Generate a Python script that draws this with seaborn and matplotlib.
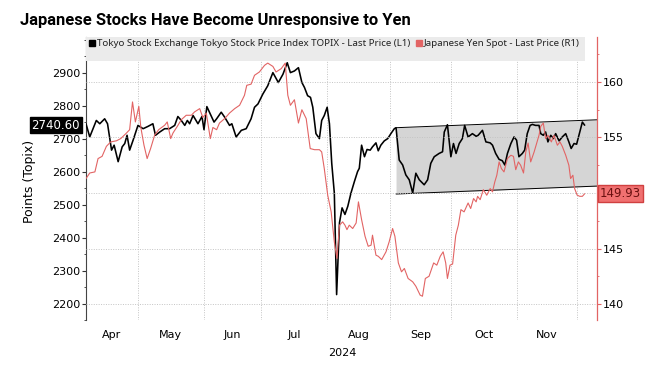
import numpy as np
import pandas as pd
import matplotlib
matplotlib.use('Agg')
import matplotlib.pyplot as plt
import seaborn as sns
from matplotlib.lines import Line2D
from matplotlib.patches import Rectangle
from matplotlib.transforms import blended_transform_factory

# DATA
# x = trading day counted from 2024-04-05 (weekdays)
topix_day = [0, 1.3, 3.6, 4.8, 6.5, 7.5, 8.9, 9.8, 11.2, 12.6, 13.5, 14.3, 15.2, 16.4,
             18.1, 19.9, 21.6, 23.3, 24.2, 25.7, 27.4, 29.1, 30.9, 32.0, 33.2, 34.4,
             35.3, 36.1, 37.3, 39.0, 40.4, 41.1, 42.1, 43.0, 44.6, 45.5, 47.1, 48.3,
             50.0, 50.8, 52.3, 54.1, 55.8, 57.5, 58.7, 59.9, 61.6, 63.3, 65.1, 67.0,
             68.6, 70.1, 71.2, 72.6, 74.0, 75.2, 76.1, 77.2, 78.2, 79.0, 80.1, 81.3,
             82.1, 83.0, 84.0, 84.8, 85.6, 86.5, 87.3, 88.3, 89.2, 90.2, 91.2, 92.3,
             93.5, 94.6, 95.2, 96.0, 97.0, 97.9, 99.0, 99.8, 101.0, 101.8, 102.7, 103.9,
             105.1, 106.2, 107.4, 108.0, 109.1, 110.3, 111.4, 112.6, 113.8, 114.9, 116.1,
             117.8, 119.0, 120.1, 121.3, 123.0, 124.2, 124.8, 125.9, 127.1, 128.0, 128.9,
             130.0, 131.1, 131.9, 133.1, 134.6, 135.9, 136.6, 138.1, 139.3, 140.8, 141.6,
             142.7, 143.9, 145.0, 145.9, 146.8, 148.0, 149.1, 150.0, 150.8, 152.0, 152.8,
             153.7, 154.7, 155.5, 156.6, 157.8, 158.4, 159.3, 160.1, 160.9, 161.9, 162.8,
             163.6, 164.8, 165.9, 167.1, 168.2, 169.0, 170.0, 170.9, 172.0, 172.9, 173.7]
topix_val = [2745, 2705, 2755, 2745, 2760, 2745, 2665, 2680, 2630, 2675, 2685, 2710, 2665, 2695,
             2740, 2730, 2737, 2745, 2710, 2720, 2730, 2730, 2740, 2767, 2755, 2740,
             2755, 2745, 2770, 2745, 2767, 2727, 2797, 2780, 2750, 2760, 2780, 2765,
             2740, 2745, 2705, 2725, 2730, 2760, 2795, 2805, 2835, 2860, 2900, 2870,
             2895, 2930, 2900, 2905, 2915, 2870, 2855, 2830, 2825, 2795, 2715, 2700,
             2755, 2770, 2795, 2745, 2625, 2535, 2227, 2445, 2490, 2470, 2495, 2535,
             2570, 2600, 2610, 2680, 2645, 2667, 2665, 2675, 2687, 2663, 2680, 2693,
             2700, 2715, 2730, 2733, 2635, 2620, 2590, 2575, 2535, 2595, 2575,
             2560, 2575, 2625, 2645, 2655, 2660, 2720, 2742, 2645, 2685, 2655,
             2685, 2700, 2740, 2705, 2715, 2707, 2710, 2725, 2690, 2687, 2680,
             2655, 2637, 2633, 2620, 2655, 2685, 2705, 2695, 2645, 2655, 2665,
             2715, 2740, 2743, 2740, 2740, 2715, 2710, 2720, 2690, 2710, 2700,
             2715, 2693, 2705, 2715, 2690, 2670, 2685, 2683, 2720, 2750, 2740.60]

yen_day = [0, 1.3, 3.1, 4.2, 5.6, 7.1, 8.6, 10.6, 12.1, 14.1, 15.2, 16.2, 17.2, 18.4, 19.1,
           20.2, 21.3, 22.5, 23.9, 25.3, 27.4, 28.3, 29.5, 30.3, 31.8, 33.2, 34.9, 36.7,
           37.8, 39.6, 40.7, 41.9, 43.3, 44.2, 45.5, 46.5, 48.3, 50.0, 51.8, 53.5, 55.2,
           56.0, 57.5, 58.7, 60.4, 62.2, 63.3, 65.1, 66.2, 68.0, 69.4, 70.3, 71.2, 72.6,
           74.0, 75.2, 76.7, 78.1, 79.6, 81.3, 82.1, 83.0, 84.2, 85.4, 86.5, 87.4, 88.3,
           89.4, 90.2, 90.9, 91.7, 92.9, 94.1, 94.9, 96.0, 97.2, 98.3, 99.3, 99.8, 101.0,
           101.8, 103.0, 104.5, 105.6, 106.8, 107.6, 108.8, 109.9, 110.9, 112.2, 113.8,
           114.9, 116.4, 117.2, 118.2, 119.5, 121.1, 122.2, 123.4, 124.4, 125.3, 125.9,
           126.8, 127.7, 128.8, 129.7, 130.6, 131.7, 133.1, 134.0, 135.0, 135.9, 136.4,
           137.3, 138.4, 139.6, 140.8, 141.6, 142.4, 143.1, 143.9, 144.7, 145.6, 146.8,
           148.0, 148.9, 149.7, 150.6, 151.4, 152.4, 153.2, 154.0, 154.9, 156.1, 157.0,
           157.8, 158.4, 159.3, 160.1, 160.9, 162.1, 163.0, 164.2, 165.1, 165.9, 167.1,
           168.2, 168.8, 169.6, 170.2, 171.1, 172.0, 172.9, 173.7]
yen_val = [151.3, 151.8, 151.9, 153.1, 153.3, 154.2, 154.6, 154.7, 154.9, 155.4, 155.7, 158.2, 156.4, 157.8, 155.9,
           154.3, 153.1, 154.0, 155.2, 155.7, 156.1, 156.4, 154.9, 155.4, 156.0, 156.6, 157.0, 157.0,
           157.3, 157.6, 156.8, 157.2, 154.9, 155.9, 155.7, 156.3, 156.7, 157.2, 157.6, 157.9, 158.8,
           159.7, 159.8, 160.6, 160.9, 161.5, 161.7, 161.4, 160.9, 161.2, 161.7, 158.8, 157.9, 158.4,
           156.3, 157.5, 156.7, 154.0, 153.9, 153.9, 153.7, 152.2, 149.8, 148.3, 145.6, 144.1, 147.1,
           147.4, 147.1, 146.7, 147.1, 146.8, 147.3, 149.2, 147.6, 146.1, 145.2, 145.3, 146.2, 144.4,
           144.3, 144.0, 144.7, 145.6, 146.8, 146.1, 143.7, 142.9, 143.2, 142.3, 142.0,
           141.6, 140.8, 140.7, 142.3, 142.5, 143.7, 143.5, 144.3, 144.7, 143.7, 142.3,
           143.5, 143.6, 146.2, 147.1, 148.5, 148.3, 149.1, 148.6, 149.5, 149.2, 149.7,
           149.4, 150.3, 149.8, 150.4, 150.1, 151.0, 151.6, 152.8, 152.2, 151.9, 153.1,
           153.4, 153.3, 152.1, 152.8, 152.5, 151.8, 153.7, 154.5, 152.8, 153.7, 154.5,
           155.2, 156.0, 156.3, 154.9, 155.2, 154.6, 155.2, 154.3, 154.6, 154.2, 153.4,
           152.5, 151.3, 151.6, 150.4, 149.8, 149.7, 149.7, 149.93]

# trend channel on the TOPIX scale
channel_day = [108.0, 178.0]
channel_top = [2733, 2757]
channel_bottom = [2532, 2556]

title = 'Japanese Stocks Have Become Unresponsive to Yen'
topix_label = 'Tokyo Stock Exchange Tokyo Stock Price Index TOPIX - Last Price (L1)'
yen_label = 'Japanese Yen Spot - Last Price (R1)'
month_names = ['Apr', 'May', 'Jun', 'Jul', 'Aug', 'Sep', 'Oct', 'Nov']

# trading calendar -> month boundaries
bdays = pd.bdate_range('2024-04-05', '2024-12-13')
month_starts = pd.Series(np.arange(len(bdays)), index=bdays).groupby(bdays.to_period('M')).min().values
month_mid = (month_starts[:-1] + month_starts[1:]) / 2

yen_color = '#e26464'
grid_kw = dict(color='#c4c4c4', linestyle=(0, (1, 1.5)), linewidth=0.7)
narrow = ['Noto Sans', 'DejaVu Sans']

sns.set_style('white')
plt.rcParams['font.family'] = ['DejaVu Sans']
plt.rcParams['text.color'] = 'black'
plt.rcParams['xtick.labelcolor'] = 'black'
plt.rcParams['ytick.labelcolor'] = 'black'

fig = plt.figure(figsize=(6.62, 3.82), dpi=100)
ax = fig.add_axes([86 / 662, 1 - 320 / 382, (597 - 86) / 662, (320 - 37) / 382])
ax2 = ax.twinx()

# channel
ax.fill_between(channel_day, channel_bottom, channel_top, color='#d5d5d5', lw=0, zorder=1)
sns.lineplot(x=channel_day, y=channel_top, ax=ax, color='black', lw=0.7, zorder=2)
sns.lineplot(x=channel_day, y=channel_bottom, ax=ax, color='black', lw=0.7, zorder=2)

sns.lineplot(x=topix_day, y=topix_val, ax=ax, color='black', lw=1.15, zorder=3)
sns.lineplot(x=yen_day, y=yen_val, ax=ax2, color=yen_color, lw=0.8, zorder=3)

ax.set_xlim(0, 178)
ax.set_ylim(2161, 3008)
ax2.set_ylim(138.56, 164.05)

# x axis: grid at month starts, labels centred in months
ax.set_xticks(month_starts[1:9])
ax.set_xticklabels([])
ax.set_xticks(month_mid[:8], minor=True)
ax.set_xticklabels(month_names, minor=True)
ax.tick_params(axis='x', which='both', length=0, pad=7, labelsize=8, labelcolor='black')
ax.xaxis.grid(True, **grid_kw)

ax.set_yticks(np.arange(2200, 2901, 100))
ax.set_yticks(np.arange(2150, 3001, 50), minor=True)
ax.tick_params(axis='y', which='major', direction='out', length=3, width=0.8, labelsize=8, pad=1,
               left=True, color='#333333', labelcolor='black')
ax.tick_params(axis='y', which='minor', direction='out', length=1.5, width=0.6, left=True, color='#333333')
ax.yaxis.grid(False)

# the 150 label sits under the last-price tag, as in the original
yen_ticks = np.arange(140, 161, 5)
ax2.set_yticks(yen_ticks)
ax2.set_yticklabels(['' if t == 150 else str(t) for t in yen_ticks])
ax2.set_yticks(np.arange(140, 163, 2.5), minor=True)
ax2.tick_params(axis='y', which='major', direction='out', length=3, width=0.8, color=yen_color,
                labelsize=8, pad=1, right=True, labelcolor='black')
ax2.tick_params(axis='y', which='minor', direction='out', length=1.5, width=0.6, color=yen_color, right=True)
ax2.yaxis.grid(True, **grid_kw)
ax2.set_ylabel('')
ax.set_ylabel('')

for s in ['top', 'bottom', 'right']:
    ax.spines[s].set_visible(False)
ax.spines['left'].set_color('#444444')
ax.spines['left'].set_linewidth(0.8)
for s in ['top', 'bottom', 'left']:
    ax2.spines[s].set_visible(False)
ax2.spines['right'].set_color(yen_color)
ax2.spines['right'].set_linewidth(0.9)

# legend strip: grey band plus a frameless legend on top
ax2.add_patch(Rectangle((0, 0.915), 0.977, 0.085, transform=ax2.transAxes, fc='#ebebeb',
                        ec='none', zorder=4))
handles = [Line2D([], [], ls='none', marker='s', ms=4, color='black'),
           Line2D([], [], ls='none', marker='s', ms=4, color=yen_color)]
leg = ax2.legend(handles, [topix_label, yen_label], ncol=2, loc='upper left',
                 bbox_to_anchor=(0.0, 1.005), prop={'family': narrow, 'stretch': 'condensed', 'size': 7},
                 frameon=False, borderpad=0.35, borderaxespad=0, handlelength=0.6,
                 handletextpad=0.2, columnspacing=0.6, labelcolor='#222222')
leg.set_zorder(5)

# last value tags
tr_left = blended_transform_factory(ax.transAxes, ax.transData)
ax.text(-0.012, topix_val[-1], f'{topix_val[-1]:.2f}', transform=tr_left, ha='right', va='center',
        color='white', fontsize=8.5, bbox=dict(boxstyle='square,pad=0.15', fc='black', ec='black'))
tr_right = blended_transform_factory(ax2.transAxes, ax2.transData)
ax2.text(1.006, yen_val[-1], f'{yen_val[-1]:.2f}', transform=tr_right, ha='left', va='center',
         color='#6a1010', fontsize=8.5, bbox=dict(boxstyle='square,pad=0.15', fc='#f07070', ec='#d04040'))

fig.text(30 / 662, 1 - 181 / 382, 'Points (Topix)', rotation=90, ha='center', va='center', fontsize=9)
fig.text(342 / 662, 1 - 353 / 382, '2024', ha='center', va='center', fontsize=8)
fig.text(20 / 662, 1 - 20 / 382, title, ha='left', va='center', fontsize=11.9, fontweight='bold',
         color='black', family=['Roboto', 'DejaVu Sans'], fontstretch='condensed')

fig.savefig('out.png', dpi=100, facecolor='white')
